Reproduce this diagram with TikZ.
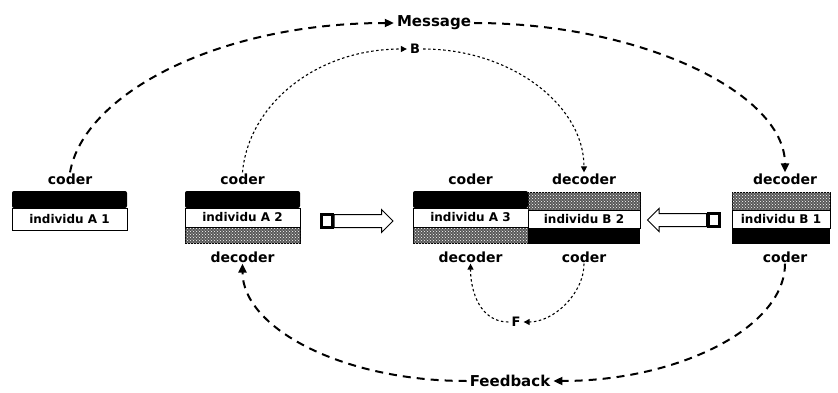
\documentclass[tikz,border=0pt]{standalone}
\usepackage{fontspec}
\setmainfont{DejaVu Sans}
\usetikzlibrary{arrows.meta,patterns,shapes.arrows}

\begin{document}
\begin{tikzpicture}[x=1pt,y=1pt,
  word/.style={font=\bfseries\fontsize{14}{16}\selectfont,inner sep=1pt},
  flowlabel/.style={font=\bfseries\fontsize{15}{18}\selectfont,inner sep=3pt},
  smalllabel/.style={font=\bfseries\fontsize{13}{14}\selectfont,inner sep=3pt},
  person/.style={draw,line width=.9pt,fill=white,inner sep=0pt,font=\bfseries\fontsize{12}{13}\selectfont},
  grainy/.style={draw,line width=.9pt,fill=black!65,postaction={pattern=crosshatch dots,pattern color=white}},
  bigflow/.style={line width=2pt,dash pattern=on 8pt off 6pt,-{Triangle[length=9pt,width=8pt]}},
  smallflow/.style={line width=1.1pt,dash pattern=on 2.5pt off 2.5pt,-{Triangle[length=6pt,width=6pt]}},
  transfer/.style={single arrow,draw,line width=1pt,fill=white,minimum height=59,inner sep=6pt,single arrow head extend=5pt},
  plug/.style={draw,line width=3pt,fill=white,minimum width=11,minimum height=13,inner sep=0pt}]
\path[use as bounding box] (0,0) rectangle (838,392);

\fill[rounded corners=2pt] (12,184) rectangle (127,201);
\node[person,minimum width=115,minimum height=22] (a1) at (69.5,173) {individu A 1};
\node[word] (a1c) at (70,213) {coder};

\fill[rounded corners=2pt] (185,184) rectangle (300,201);
\draw[grainy] (185,149) rectangle (300,165);
\node[person,minimum width=115,minimum height=19] (a2) at (242.5,174.5) {individu A 2};
\node[word] (a2c) at (242.5,213) {coder};
\node[word] (a2d) at (242.5,135) {decoder};

\fill[rounded corners=2pt] (413,184) rectangle (528,201);
\draw[grainy] (413,149) rectangle (528,165);
\node[person,minimum width=115,minimum height=19] (a3) at (470.5,174.5) {individu A 3};
\node[word] (a3c) at (470.5,213) {coder};
\node[word] (a3d) at (470.5,135) {decoder};

\draw[grainy] (528,182) rectangle (640,200);
\fill (528,148) rectangle (640,164);
\node[person,minimum width=112,minimum height=18] (b2) at (584,173) {individu B 2};
\node[word] (b2d) at (584,213) {decoder};
\node[word] (b2c) at (584,135) {coder};

\draw[grainy] (732,182) rectangle (830,200);
\fill (732,148) rectangle (830,164);
\node[person,minimum width=98,minimum height=18] (b1) at (781,173) {individu B 1};
\node[word] (b1d) at (785,213) {decoder};
\node[word] (b1c) at (785,135) {coder};

\node[plug] (p1) at (326.5,171) {};
\node[transfer,anchor=tail] (t1) at (p1.east) {};
\node[plug] (p2) at (714,172) {};
\node[transfer,shape border rotate=180,anchor=tail] (t2) at (p2.west) {};

\node[flowlabel] (msg) at (434,369) {Message};
\node[flowlabel] (fb) at (510,11) {Feedback};
\node[smalllabel] (lblb) at (415,343) {B};
\node[smalllabel] (lblf) at (516,70) {F};

\draw[bigflow] (a1c.north) to[out=80,in=180,out distance=80,in distance=175] (msg.west);
\draw[bigflow] (msg.east) to[out=0,in=90,out distance=165,in distance=80] (b1d.north);
\draw[bigflow] (b1c.south) to[out=-90,in=0,out distance=64,in distance=125] (fb.east);
\draw[bigflow] (fb.west) to[out=180,in=-90,out distance=125,in distance=64] (a2d.south);
\draw[smallflow] (a2c.north) to[out=85,in=180,out distance=67,in distance=92] (lblb.west);
\draw[smallflow] (lblb.east) to[out=0,in=90,out distance=88,in distance=67] (b2d.north);
\draw[smallflow] (b2c.south) to[out=-90,in=0,out distance=30,in distance=30] (lblf.east);
\draw[smallflow] (lblf.west) to[out=180,in=-90,out distance=28,in distance=28] (a3d.south);
\end{tikzpicture}
\end{document}
